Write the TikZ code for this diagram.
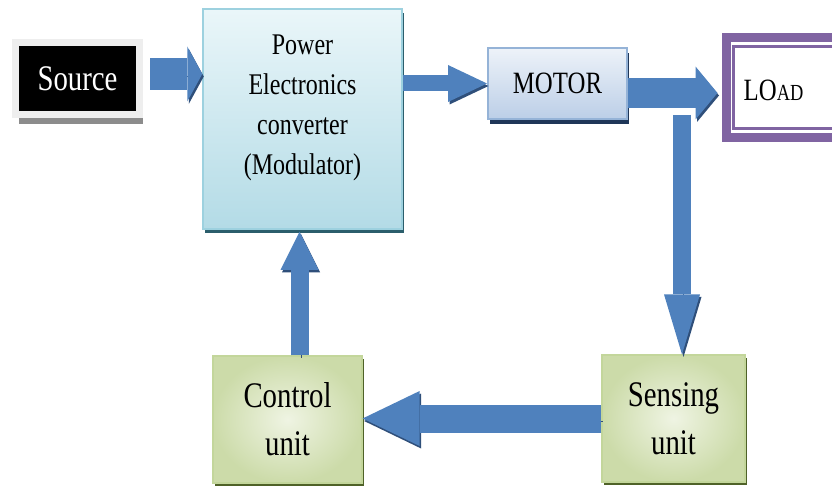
\documentclass[tikz,border=0pt]{standalone}
\usepackage{fontspec}
\setmainfont{Liberation Serif}
\newfontfamily\blockfont[FakeStretch=0.8]{Liberation Serif}
\usepackage{tikz}
\usetikzlibrary{arrows.meta, positioning, shadows}
\usepackage{xcolor}

\definecolor{flowblue}{HTML}{4F81BD}
\definecolor{flowShade}{HTML}{2F4F7A}
\definecolor{srcframe}{HTML}{EEEEEE}
\definecolor{srcshadow}{HTML}{8C8C8C}
\definecolor{peTop}{HTML}{EAF6F9}
\definecolor{peBot}{HTML}{B3DBE6}
\definecolor{peLine}{HTML}{9DD1DF}
\definecolor{peShadow}{HTML}{2B5E6C}
\definecolor{motTop}{HTML}{EDF2F9}
\definecolor{motBot}{HTML}{BCCFE7}
\definecolor{motLine}{HTML}{95B3D7}
\definecolor{motShadow}{HTML}{1F3658}
\definecolor{grnIn}{HTML}{EFF4E3}
\definecolor{grnOut}{HTML}{CCDBA9}
\definecolor{grnLine}{HTML}{C3D69B}
\definecolor{grnShadow}{HTML}{4F6228}
\definecolor{loadPurple}{HTML}{8064A2}

\begin{document}
\begin{tikzpicture}[
      x=1pt, y=-1pt,
      box/.style={rectangle, align=center, inner sep=0pt},
      srcbox/.style={box, fill=black, draw=srcframe, line width=7pt, text=white, minimum width=124pt, minimum height=72pt, font=\blockfont\fontsize{36}{40}\selectfont, drop shadow={shadow xshift=3pt, shadow yshift=-9pt, fill=srcshadow, opacity=1}},
      pebox/.style={box, top color=peTop, bottom color=peBot, draw=peLine, line width=1.5pt, minimum width=199pt, minimum height=220pt, drop shadow={shadow xshift=2pt, shadow yshift=-4pt, fill=peShadow, opacity=1}},
      petext/.style={font=\blockfont\fontsize{30}{40}\selectfont, align=center, inner sep=0pt},
      motbox/.style={box, top color=motTop, bottom color=motBot, draw=motLine, line width=2pt, minimum width=139pt, minimum height=71pt, font=\blockfont\fontsize{31}{36}\selectfont, drop shadow={shadow xshift=2pt, shadow yshift=-5pt, fill=motShadow, opacity=1}},
      loadbox/.style={box, draw=loadPurple, fill=white, line width=9pt, minimum width=120pt, minimum height=100pt},
      loadinner/.style={box, draw=loadPurple, line width=2.5pt, minimum width=105pt, minimum height=82pt},
      loadtext/.style={font=\blockfont\fontsize{31}{34}\selectfont, inner sep=0pt},
      unitbox/.style={box, inner color=grnIn, outer color=grnOut, draw=grnLine, line width=1.2pt, minimum width=149pt, minimum height=127pt, font=\blockfont\fontsize{36}{48}\selectfont, drop shadow={shadow xshift=2pt, shadow yshift=-3pt, fill=grnShadow, opacity=1}},
      flow/.style n args={3}{draw=flowblue, line width=#1, -{Triangle[width=#2, length=#3, line width=0pt]},
        preaction={draw=flowShade, transform canvas={shift={(1.5,2.5)}}}}
    ]
    \useasboundingbox (0,0) rectangle (832,486);
    \clip (0,0) rectangle (832,486);

    % Nodes
    \node[srcbox] (src) at (77.5,79) {Source};
    \node[pebox, label={[petext, yshift=11pt]center:{Power\\Electronics\\converter\\(Modulator)}}] (pe) at (302.5,119) {};
    \node[motbox] (motor) at (557.5,83.5) {MOTOR};
    \node[loadbox, label={[loadtext, anchor=west, xshift=22pt, yshift=-3pt]west:{LO\fontsize{23}{26}\selectfont AD}}] (load) at (786,87.5) {};
    \node[loadinner] (loadin) at (load.center) {};
    \node[unitbox] (ctrl) at (287.5,419.5) {Control\\unit};
    \node[unitbox, minimum width=143pt] (sens) at (673.5,418.5) {Sensing\\unit};

    % Connectors
    \coordinate[yshift=5pt] (srcout) at (src.east);
    \coordinate[yshift=-9.5pt] (motout) at (motor.east);
    \coordinate (tap) at (682,115);
    \coordinate[xshift=-3pt] (fb) at (pe.south);
    \draw[flow={32pt}{55pt}{15pt}, shorten <=7pt] (srcout) -- (srcout -| pe.west);
    \draw[flow={16pt}{37pt}{39pt}] (pe.east |- motor.west) -- (motor.west);
    \draw[flow={30pt}{53pt}{22pt}, shorten >=4pt] (motout) -- (motout -| load.west);
    \draw[flow={18pt}{36pt}{60pt}] (tap) -- (tap |- sens.north);
    \draw[flow={28pt}{55pt}{57pt}] (sens.west) -- (sens.west -| ctrl.east);
    \draw[flow={18pt}{38pt}{38pt}, shorten >=2pt] (fb |- ctrl.north) -- (fb);
  \end{tikzpicture}
\end{document}
